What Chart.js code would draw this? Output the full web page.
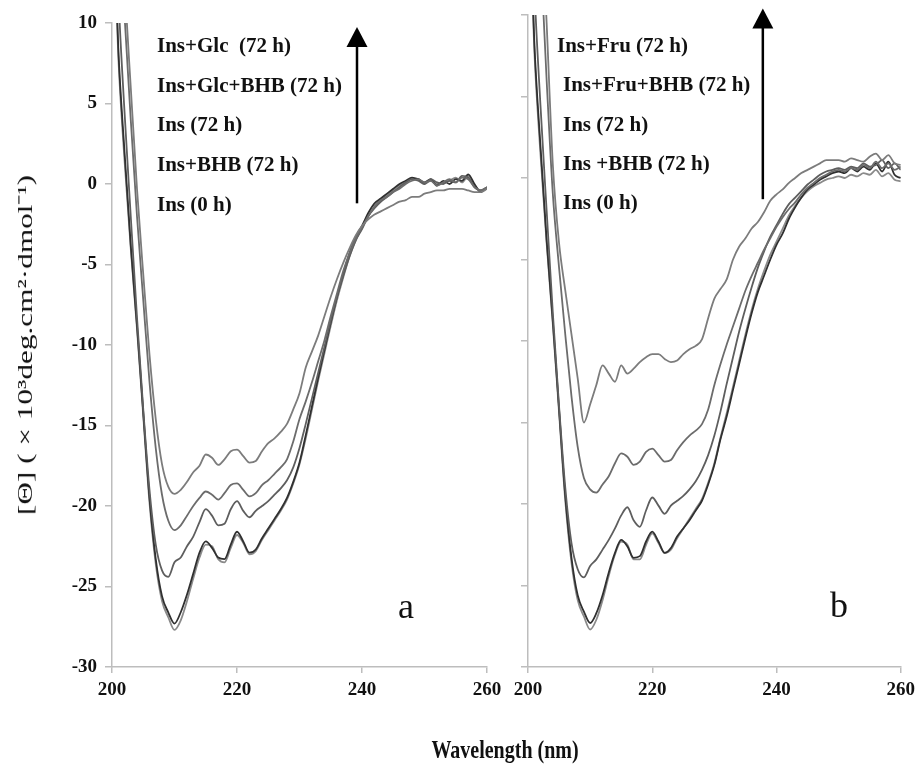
<!DOCTYPE html>
<html>
<head>
<meta charset="utf-8">
<script src="https://cdn.jsdelivr.net/npm/chart.js@4.4.1/dist/chart.umd.min.js"></script>
<style>
  html, body { margin: 0; padding: 0; background: #fff; }
  #wrap { position: relative; width: 921px; height: 769px; overflow: hidden;
          font-family: "Liberation Serif", "Times New Roman", serif; color: #111; }
  canvas { position: absolute; top: 0; }
  #chartA { left: 0; }
  #chartB { left: 505px; }
  .tag { position: absolute; font-weight: bold; font-size: 21px; line-height: 24px; white-space: pre; }
  .panel { position: absolute; font-size: 36px; line-height: 36px; }
  #ytitle { position: absolute; left: 23px; top: 345px; font-size: 22px; white-space: nowrap;
            transform: translate(-50%, -50%) rotate(-90deg) scaleX(1.42); }
  #xtitle { position: absolute; left: 505px; top: 750px; font-size: 20px; font-weight: bold; white-space: nowrap;
            transform: translate(-50%, -50%) scaleY(1.3); }
</style>
</head>
<body>
<div id="wrap">
  <canvas id="chartA" width="509" height="769"></canvas>
  <canvas id="chartB" width="416" height="769"></canvas>
  <div id="ytitle">[Θ] ( × 10³deg.cm²·dmol⁻¹)</div>
  <div id="xtitle">Wavelength (nm)</div>
  <div class="panel" style="left:398px; top:588px;">a</div>
  <div class="panel" style="left:830px; top:587px;">b</div>
</div>
<script>
// wavelength (nm)
const wavelengths = [200, 201, 202, 203, 204, 205, 206, 207, 208, 209,
  210, 211, 212, 213, 214, 215, 216, 217, 218, 219,
  220, 221, 222, 223, 224, 225, 226, 227, 228, 229,
  230, 231, 232, 233, 234, 235, 236, 237, 238, 239,
  240, 241, 242, 243, 244, 245, 246, 247, 248, 249,
  250, 251, 252, 253, 254, 255, 256, 257, 258, 259, 260];

// panel a
const insGlc72 = [32, 20, 12.5, 6.0, -0.3, -5.6, -10.6, -14.6, -17.4, -18.8,
  -19.25, -19.0, -18.5, -17.9, -17.5, -16.8, -17.0, -17.45, -17.1, -16.6,
  -16.5, -16.9, -17.3, -17.2, -16.6, -16.1, -15.8, -15.4, -14.9, -14.0,
  -13.0, -11.4, -10.4, -9.4, -8.2, -7.0, -5.9, -4.9, -4.0, -3.2,
  -2.6, -2.2, -1.9, -1.7, -1.5, -1.3, -1.1, -1.0, -0.8, -0.8,
  -0.6, -0.5, -0.4, -0.4, -0.3, -0.3, -0.3, -0.4, -0.5, -0.5, -0.3];
const insGlcBhb72 = [30, 18, 10.5, 4.0, -2.0, -7.2, -12.3, -16.4, -19.3, -20.9,
  -21.5, -21.2, -20.6, -20.0, -19.5, -19.1, -19.3, -19.6, -19.2, -18.7,
  -18.6, -19.0, -19.4, -19.2, -18.7, -18.4, -18.0, -17.6, -17.1, -16.0,
  -14.6, -13.5, -12.3, -11.0, -9.7, -8.2, -6.8, -5.4, -4.3, -3.4,
  -2.7, -2.0, -1.4, -1.0, -0.8, -0.5, -0.3, 0.0, 0.2, 0.3,
  0.1, 0.2, -0.1, 0.1, 0.3, 0.1, 0.4, 0.3, -0.2, -0.4, -0.2];
const ins72a = [24, 12, 4.5, -2.0, -8.3, -14.0, -19.0, -22.4, -24.0, -24.4,
  -23.5, -23.2, -22.5, -21.9, -21.0, -20.2, -20.6, -21.2, -21.1, -20.2,
  -19.7, -20.3, -20.7, -20.3, -20.0, -19.7, -19.3, -18.9, -18.4, -17.6,
  -16.4, -14.9, -13.3, -11.7, -10.1, -8.5, -7.0, -5.7, -4.5, -3.5,
  -2.8, -2.0, -1.5, -1.1, -0.8, -0.5, -0.2, 0.1, 0.3, 0.2,
  0.0, 0.3, 0.1, 0.0, 0.2, 0.1, 0.5, 0.4, -0.2, -0.4, -0.2];
const insBhb72a = [20, 8.5, 2.0, -3.8, -8.8, -14.2, -19.5, -23.3, -25.6, -26.6,
  -27.3, -26.6, -25.5, -24.2, -22.9, -22.2, -22.6, -23.2, -23.3, -22.4,
  -21.6, -22.2, -22.9, -22.7, -22.0, -21.4, -20.8, -20.2, -19.5, -18.5,
  -17.3, -15.6, -13.8, -12.0, -10.3, -8.6, -7.0, -5.6, -4.3, -3.3,
  -2.6, -1.8, -1.2, -0.9, -0.6, -0.3, 0.0, 0.2, 0.4, 0.3,
  0.1, 0.3, -0.1, 0.2, 0.0, 0.3, 0.2, 0.6, 0.0, -0.5, -0.2];
const ins0a = [19, 8.0, 1.5, -4.0, -9.0, -14.4, -19.8, -23.6, -25.9, -26.9,
  -27.7, -27.1, -25.9, -24.5, -23.2, -22.4, -22.5, -23.3, -23.5, -22.6,
  -21.8, -22.3, -23.0, -22.8, -22.1, -21.5, -20.9, -20.3, -19.6, -18.6,
  -17.4, -15.8, -14.0, -12.2, -10.5, -8.8, -7.2, -5.8, -4.5, -3.5,
  -2.7, -2.0, -1.4, -1.0, -0.7, -0.4, -0.1, 0.1, 0.3, 0.3,
  0.0, 0.2, 0.0, 0.1, 0.2, 0.4, 0.1, 0.5, -0.1, -0.4, -0.3];

// panel b
const insFru72 = [40, 28, 18, 9.5, 0.8, -4.0, -6.9, -9.6, -12.3, -15.0,
  -13.9, -12.7, -11.5, -12.0, -12.5, -11.5, -12.0, -11.7, -11.3, -11.0,
  -10.8, -10.8, -11.1, -11.3, -11.2, -10.8, -10.5, -10.3, -9.9, -8.6,
  -7.4, -6.8, -6.2, -5.0, -4.2, -3.7, -3.1, -2.7, -2.1, -1.4,
  -1.0, -0.7, -0.3, 0.0, 0.3, 0.5, 0.7, 0.9, 1.1, 1.1,
  1.1, 1.0, 1.2, 1.1, 1.0, 1.3, 1.5, 1.1, 1.4, 0.9, 0.8];
const insFruBhb72 = [36, 24, 14, 6.0, -1.0, -5.5, -9.6, -13.4, -16.5, -18.4,
  -19.1, -19.3, -18.8, -18.3, -17.5, -16.9, -17.1, -17.6, -17.4, -16.8,
  -16.6, -17.0, -17.4, -17.3, -16.7, -16.2, -15.8, -15.5, -15.1, -14.2,
  -12.7, -11.4, -10.2, -9.1, -8.0, -6.9, -6.0, -5.2, -4.4, -3.7,
  -3.0, -2.4, -1.9, -1.5, -1.0, -0.6, -0.3, 0.0, 0.2, 0.4,
  0.5, 0.4, 0.6, 0.5, 0.8, 0.6, 1.0, 0.6, 0.9, 0.5, 0.7];
const ins72b = [24, 12, 4.5, -2.0, -8.3, -14.0, -19.0, -22.4, -24.0, -24.5,
  -23.8, -23.4, -22.8, -22.2, -21.5, -20.7, -20.2, -21.0, -21.4, -20.4,
  -19.6, -20.1, -20.6, -20.1, -19.8, -19.5, -19.1, -18.6, -17.9, -17.0,
  -15.8, -14.3, -12.6, -11.0, -9.4, -8.0, -6.7, -5.5, -4.5, -3.6,
  -2.9, -2.2, -1.6, -1.2, -0.8, -0.4, -0.1, 0.2, 0.4, 0.5,
  0.6, 0.5, 0.7, 0.6, 0.9, 0.7, 0.8, 1.1, 0.6, 0.9, 0.5];
const insBhb72b = [20, 8.5, 2.0, -3.8, -8.8, -14.2, -19.5, -23.3, -25.6, -26.6,
  -27.3, -26.7, -25.6, -24.2, -23.0, -22.2, -22.6, -23.3, -23.2, -22.3,
  -21.7, -22.3, -23.0, -22.7, -22.0, -21.5, -21.0, -20.4, -19.8, -18.8,
  -17.6, -16.0, -14.6, -13.0, -11.4, -9.8, -8.3, -7.0, -6.0, -5.0,
  -4.1, -3.4, -2.5, -1.8, -1.2, -0.7, -0.4, -0.1, 0.1, 0.3,
  0.4, 0.3, 0.6, 0.4, 0.7, 0.5, 0.9, 0.4, 1.0, 0.2, 0.0];
const ins0b = [19, 8.0, 1.5, -4.0, -9.0, -14.4, -19.8, -23.6, -25.9, -26.9,
  -27.7, -27.1, -25.9, -24.4, -23.1, -22.3, -22.5, -23.4, -23.4, -22.5,
  -21.8, -22.4, -23.0, -22.8, -22.1, -21.5, -20.9, -20.3, -19.7, -18.7,
  -17.5, -15.9, -14.4, -12.8, -11.2, -9.6, -8.1, -6.8, -5.7, -4.7,
  -3.9, -3.1, -2.3, -1.7, -1.2, -0.8, -0.5, -0.3, -0.1, 0.0,
  0.1, 0.0, 0.2, 0.1, 0.3, 0.2, 0.5, 0.1, 0.3, -0.1, -0.2];

const labelsA = ["Ins+Glc  (72 h)", "Ins+Glc+BHB (72 h)", "Ins (72 h)", "Ins+BHB (72 h)", "Ins (0 h)"];
const labelsB = ["Ins+Fru (72 h)", "Ins+Fru+BHB (72 h)", "Ins (72 h)", "Ins +BHB (72 h)", "Ins (0 h)"];

const axisGray = '#bdbdbd';
const lineColors = ['#7c7c7c', '#6c6c6c', '#5e5e5e', '#303030', '#8a8a8a'];
const tickFont = { family: '"Liberation Serif", "Times New Roman", serif', size: 19, weight: 'bold' };

// label text blocks
function placeLabels(list, lefts, top0, step) {
  const wrap = document.getElementById('wrap');
  list.forEach((txt, i) => {
    const d = document.createElement('div');
    d.className = 'tag';
    d.textContent = txt;
    d.style.left = lefts[i] + 'px';
    d.style.top = (top0 + i * step - 12) + 'px';
    wrap.appendChild(d);
  });
}
placeLabels(labelsA, [157, 157, 157, 157, 157], 45, 39.7);
placeLabels(labelsB, [557, 563, 563, 563, 563], 45, 39.3);

// vertical arrow drawn in data units
const arrowPlugin = {
  id: 'arrow',
  afterDatasetsDraw(chart, args, opts) {
    const { ctx, scales: { x, y } } = chart;
    const px = x.getPixelForValue(opts.at);
    const yBase = y.getPixelForValue(opts.from);
    const yTip = y.getPixelForValue(opts.to);
    ctx.save();
    ctx.strokeStyle = '#000';
    ctx.fillStyle = '#000';
    ctx.lineWidth = 2.5;
    ctx.beginPath();
    ctx.moveTo(px, yBase);
    ctx.lineTo(px, yTip + 18);
    ctx.stroke();
    ctx.beginPath();
    ctx.moveTo(px, yTip);
    ctx.lineTo(px - 10.5, yTip + 20);
    ctx.lineTo(px + 10.5, yTip + 20);
    ctx.closePath();
    ctx.fill();
    ctx.restore();
  }
};

function series(names, arrays) {
  return arrays.map((arr, i) => ({
    label: names[i],
    data: wavelengths.map((w, j) => ({ x: w, y: arr[j] })),
    borderColor: lineColors[i],
    borderWidth: 1.8,
    pointRadius: 0,
    fill: false,
    cubicInterpolationMode: 'monotone'
  }));
}

function makePanel(id, datasets, side) {
  return new Chart(document.getElementById(id), {
    type: 'line',
    data: { datasets },
    options: {
      responsive: false,
      animation: false,
      layout: { padding: side.padding },
      plugins: {
        legend: { display: false },
        tooltip: { enabled: false },
        arrow: side.arrow
      },
      scales: {
        x: {
          type: 'linear', min: 200, max: 260,
          ticks: { stepSize: 20, font: tickFont, color: '#111', padding: 6, maxRotation: 0 },
          grid: { drawOnChartArea: false, drawTicks: true, tickLength: 6, color: axisGray, lineWidth: 1.5 },
          border: { display: true, color: axisGray, width: 1.5 },
          afterFit(s) { s.height = 102; }
        },
        y: {
          min: -30, max: 10,
          ticks: { stepSize: 5, display: side.yLabels, font: tickFont, color: '#111', padding: 8 },
          grid: { drawOnChartArea: false, drawTicks: true, tickLength: 7, color: axisGray, lineWidth: 1.5 },
          border: { display: true, color: axisGray, width: 1.5 },
          afterFit(s) { s.width = side.yWidth; }
        }
      }
    },
    plugins: [arrowPlugin]
  });
}

makePanel('chartA', series(labelsA, [insGlc72, insGlcBhb72, ins72a, insBhb72a, ins0a]), {
  padding: { left: 0, top: 23, right: 22, bottom: 0 },
  yWidth: 112,
  yLabels: true,
  arrow: { at: 239.2, from: -1.2, to: 9.75 }
});

makePanel('chartB', series(labelsB, [insFru72, insFruBhb72, ins72b, insBhb72b, ins0b]), {
  padding: { left: 0, top: 15, right: 18, bottom: 0 },
  yWidth: 23,
  yLabels: false,
  arrow: { at: 237.8, from: -1.3, to: 10.4 }
});
</script>
</body>
</html>
